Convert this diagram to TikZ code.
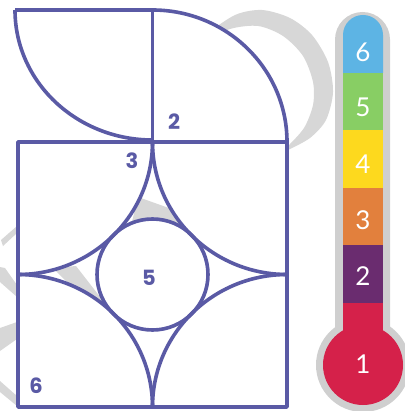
\documentclass[tikz,border=0pt]{standalone}
\usepackage{fontspec}
\setmainfont{Lato}
\newfontfamily\figfont{Poppins}
\definecolor{linepurple}{HTML}{5A5AA5}
\definecolor{watermark}{HTML}{D7D7D7}
\definecolor{tubegray}{HTML}{CFCFCF}
\definecolor{scaleblue}{HTML}{5DB4E4}
\definecolor{scalegreen}{HTML}{88CE64}
\definecolor{scaleyellow}{HTML}{FDD91E}
\definecolor{scaleorange}{HTML}{E2803D}
\definecolor{scalepurple}{HTML}{6A2C6F}
\definecolor{scalered}{HTML}{D5214A}
\begin{document}
\begin{tikzpicture}[x=1pt, y=-1pt,
  edge/.style={draw=linepurple, line width=3.6pt, line join=round},
  piece/.style={fill=watermark},
  figlabel/.style={text=linepurple, font=\figfont\bfseries\fontsize{21}{21}\selectfont, inner sep=0pt},
  scalelabel/.style={text=white, font=\fontsize{26}{26}\selectfont, inner sep=0pt}
]
  \useasboundingbox (0,0) rectangle (404,411);
  \fill[piece] plot[smooth] coordinates {(205,35) (235,15) (262,10) (290,18) (312,35) (328,62) (333,92) (326,120) (310,138) (288,150)}
    -- plot[smooth] coordinates {(288,146) (304,128) (313,105) (313,82) (303,56) (283,36) (258,26) (230,29) (205,42)} -- cycle;
  \fill[piece] (138,197) -- (180,212) -- (180,230) -- (130,230) -- cycle;
  \fill[piece] (53,268) -- (76,266) -- (104,302) -- (95,310) -- cycle;
  \fill[piece] (17,226) -- (17,233) -- (3,246) -- (1,240) -- cycle;
  \fill[piece] (0,267) -- (5,268) -- (17,285) -- (17,297) -- (0,282) -- cycle;
  \fill[piece] (0,328) -- (17,322) -- (17,339) -- (0,351) -- cycle;
  \fill[piece] (0,381) -- (17,396) -- (17,406) -- (0,392) -- cycle;

  \fill[white] (15,10) -- (152.5,10) -- (152.5,140) arc[start angle=90, end angle=180, x radius=137.5, y radius=130] -- cycle;
  \fill[white] (152.5,142) -- (152.5,10) arc[start angle=270, end angle=360, x radius=134.5, y radius=132] -- cycle;
  \fill[white] (18,142) -- (152.5,142) arc[start angle=0, end angle=90, x radius=134.5, y radius=132.5] -- cycle;
  \fill[white] (287,142) -- (152.5,142) arc[start angle=180, end angle=90, x radius=134.5, y radius=132.5] -- cycle;
  \fill[white] (18,407) -- (152.5,407) arc[start angle=0, end angle=-90, x radius=134.5, y radius=132.5] -- cycle;
  \fill[white] (287,407) -- (152.5,407) arc[start angle=180, end angle=270, x radius=134.5, y radius=132.5] -- cycle;
  \fill[white] (152.5,274.5) circle[radius=55.5];

  \draw[edge] (15,10) -- (152.5,10) arc[start angle=270, end angle=360, x radius=134.5, y radius=132];
  \draw[edge] (15,10) arc[start angle=180, end angle=90, x radius=137.5, y radius=130];
  \draw[edge] (152.5,10) -- (152.5,142);
  \draw[edge] (18,142) rectangle (287,407);
  \draw[edge] (152.5,142) arc[start angle=0, end angle=90, x radius=134.5, y radius=132.5];
  \draw[edge] (152.5,142) arc[start angle=180, end angle=90, x radius=134.5, y radius=132.5];
  \draw[edge] (152.5,407) arc[start angle=0, end angle=-90, x radius=134.5, y radius=132.5];
  \draw[edge] (152.5,407) arc[start angle=180, end angle=270, x radius=134.5, y radius=132.5];
  \draw[edge] (152.5,274.5) circle[radius=55.5];

  \node[figlabel] (two) at (174,122) {2};
  \node[figlabel] (three) at (132,161) {3};
  \node[figlabel] (five) at (149,278) {5};
  \node[figlabel] (six) at (36,386) {6};

  \fill[tubegray] (335,39.5) arc[start angle=180, end angle=360, radius=27.5] -- (390,340) -- (335,340) -- cycle;
  \fill[tubegray] (363,365) circle[radius=47];
  \fill[scaleblue] (343,73) -- (343,35) arc[start angle=180, end angle=360, radius=20] -- (383,73) -- cycle;
  \fill[scalegreen] (343,73) rectangle (383,130);
  \fill[scaleyellow] (343,130) rectangle (383,188);
  \fill[scaleorange] (343,188) rectangle (383,245);
  \fill[scalepurple] (343,245) rectangle (383,303);
  \fill[scalered] (343,303) rectangle (383,340);
  \fill[scalered] (363,365) circle[radius=40];

  \node[scalelabel] (lvl6) at (363,52) {6};
  \node[scalelabel] (lvl5) at (363,107) {5};
  \node[scalelabel] (lvl4) at (363,164) {4};
  \node[scalelabel] (lvl3) at (363,220) {3};
  \node[scalelabel] (lvl2) at (363,276) {2};
  \node[scalelabel] (lvl1) at (363,364) {1};
\end{tikzpicture}
\end{document}
